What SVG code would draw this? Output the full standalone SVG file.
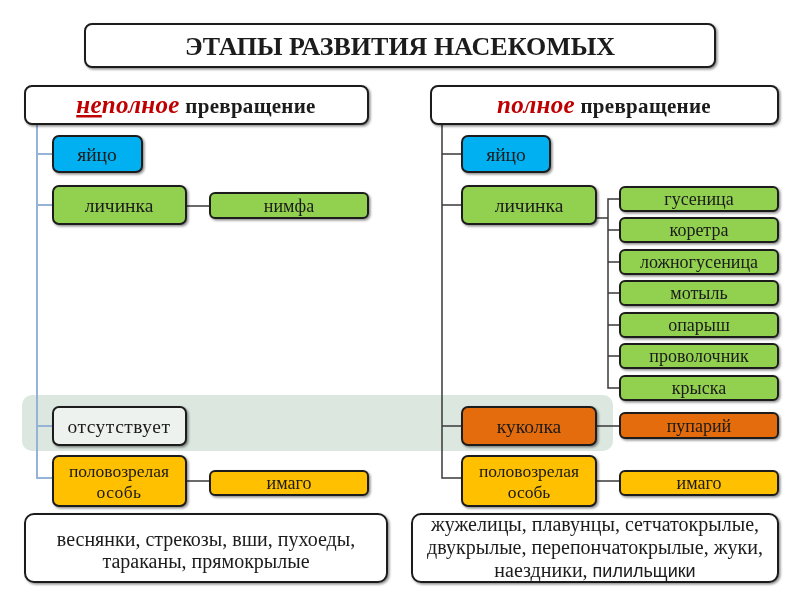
<svg xmlns="http://www.w3.org/2000/svg" width="800" height="600" viewBox="0 0 800 600">
<style>
text{font-family:"Liberation Serif","Times New Roman",serif;fill:#1a1a1a;text-anchor:middle}
.box{stroke:#1e1e1e;stroke-width:2}
.w{fill:#ffffff}
.blue{fill:#00b0f0}
.green{fill:#92d050}
.orange{fill:#e46c0a}
.yellow{fill:#ffc000}
.grey{fill:#eef2ef}
.n{font-size:19.5px}
.s{font-size:17.5px}
.c{font-size:18px}
.b{font-size:20px}
.lb{stroke:#95b3d7;stroke-width:2;fill:none}
.ld{stroke:#3a3a3a;stroke-width:1.5;fill:none}
</style>
<defs>
<filter id="sh" x="-10%" y="-10%" width="130%" height="140%">
<feDropShadow dx="1.5" dy="1.5" stdDeviation="1" flood-color="#000" flood-opacity="0.45"/>
</filter>
</defs>
<rect width="800" height="600" fill="#ffffff"/>
<rect x="22" y="395" width="591" height="56" rx="10" fill="#dce7e0"/>

<g id="connectors">
<path class="lb" d="M37 124 V478 H53 M37 154 H53 M37 205 H53 M37 426 H53"/>
<path class="ld" d="M186 206 H210 M186 481 H210"/>
<path class="ld" d="M442 124 V478 H462 M442 154 H462 M442 205 H462 M442 426 H462"/>
<path class="ld" d="M596 218 H608 M620 199 H608 V388 H620 M608 230 H620 M608 262 H620 M608 293 H620 M608 325 H620 M608 356 H620"/>
<path class="ld" d="M596 426 H620 M596 481 H620"/>
</g>

<g id="title" filter="url(#sh)">
<rect class="box w" x="85" y="24" width="630" height="43" rx="7"/>
<text x="400" y="55" style="font-size:26px;font-weight:bold">ЭТАПЫ РАЗВИТИЯ НАСЕКОМЫХ</text>
</g>

<g id="left-header" filter="url(#sh)">
<rect class="box w" x="25" y="86" width="343" height="38" rx="7"/>
<text x="196" y="113" style="font-size:21px;font-weight:bold;letter-spacing:0.3px"><tspan style="fill:#c00000;font-style:italic;font-size:25px;text-decoration:underline">не</tspan><tspan style="fill:#c00000;font-style:italic;font-size:25px">полное</tspan> превращение</text>
</g>
<g id="right-header" filter="url(#sh)">
<rect class="box w" x="431" y="86" width="347" height="38" rx="7"/>
<text x="604" y="113" style="font-size:21px;font-weight:bold;letter-spacing:0.3px"><tspan style="fill:#c00000;font-style:italic;font-size:25px">полное</tspan> превращение</text>
</g>

<g id="l-egg" filter="url(#sh)"><rect class="box blue" x="53" y="136" width="89" height="36" rx="6"/><text class="n" x="97" y="161">яйцо</text></g>
<g id="l-larva" filter="url(#sh)"><rect class="box green" x="53" y="186" width="133" height="38" rx="6"/><text class="n" x="119" y="212">личинка</text></g>
<g id="l-nymph" filter="url(#sh)"><rect class="box green" x="210" y="193" width="158" height="25" rx="5"/><text class="c" x="289" y="212">нимфа</text></g>
<g id="l-absent" filter="url(#sh)"><rect class="box grey" x="53" y="407" width="133" height="38" rx="6"/><text class="n" x="119" y="433" style="letter-spacing:0.5px">отсутствует</text></g>
<g id="l-adult" filter="url(#sh)"><rect class="box yellow" x="53" y="456" width="133" height="50" rx="6"/><text class="s" x="119" y="477">половозрелая</text><text class="s" x="119" y="498" style="letter-spacing:0.5px">особь</text></g>
<g id="l-imago" filter="url(#sh)"><rect class="box yellow" x="210" y="471" width="158" height="24" rx="5"/><text class="c" x="289" y="489">имаго</text></g>

<g id="r-egg" filter="url(#sh)"><rect class="box blue" x="462" y="136" width="88" height="36" rx="6"/><text class="n" x="506" y="161">яйцо</text></g>
<g id="r-larva" filter="url(#sh)"><rect class="box green" x="462" y="186" width="134" height="38" rx="6"/><text class="n" x="529" y="212">личинка</text></g>
<g id="r-c1" filter="url(#sh)"><rect class="box green" x="620" y="187" width="158" height="24" rx="5"/><text class="c" x="699" y="205">гусеница</text></g>
<g id="r-c2" filter="url(#sh)"><rect class="box green" x="620" y="218" width="158" height="24" rx="5"/><text class="c" x="699" y="236">коретра</text></g>
<g id="r-c3" filter="url(#sh)"><rect class="box green" x="620" y="250" width="158" height="24" rx="5"/><text class="c" x="699" y="268">ложногусеница</text></g>
<g id="r-c4" filter="url(#sh)"><rect class="box green" x="620" y="281" width="158" height="24" rx="5"/><text class="c" x="699" y="299">мотыль</text></g>
<g id="r-c5" filter="url(#sh)"><rect class="box green" x="620" y="313" width="158" height="24" rx="5"/><text class="c" x="699" y="331">опарыш</text></g>
<g id="r-c6" filter="url(#sh)"><rect class="box green" x="620" y="344" width="158" height="24" rx="5"/><text class="c" x="699" y="362">проволочник</text></g>
<g id="r-c7" filter="url(#sh)"><rect class="box green" x="620" y="376" width="158" height="24" rx="5"/><text class="c" x="699" y="394">крыска</text></g>
<g id="r-pupa" filter="url(#sh)"><rect class="box orange" x="462" y="407" width="134" height="38" rx="6"/><text class="n" x="529" y="433">куколка</text></g>
<g id="r-puparium" filter="url(#sh)"><rect class="box orange" x="620" y="413" width="158" height="25" rx="5"/><text class="c" x="699" y="432">пупарий</text></g>
<g id="r-adult" filter="url(#sh)"><rect class="box yellow" x="462" y="456" width="134" height="50" rx="6"/><text class="s" x="529" y="477">половозрелая</text><text class="s" x="529" y="498">особь</text></g>
<g id="r-imago" filter="url(#sh)"><rect class="box yellow" x="620" y="471" width="158" height="24" rx="5"/><text class="c" x="699" y="489">имаго</text></g>

<g id="l-examples" filter="url(#sh)">
<rect class="box w" x="25" y="514" width="362" height="68" rx="9"/>
<text class="b" x="206" y="546">веснянки, стрекозы, вши, пухоеды,</text>
<text class="b" x="206" y="568">тараканы, прямокрылые</text>
</g>
<g id="r-examples" filter="url(#sh)">
<rect class="box w" x="412" y="514" width="366" height="68" rx="9"/>
<text class="b" x="595" y="531">жужелицы, плавунцы, сетчатокрылые,</text>
<text class="b" x="595" y="554">двукрылые, перепончатокрылые, жуки,</text>
<text class="b" x="595" y="577">наездники, <tspan style="font-family:'Liberation Sans',Arial,sans-serif;font-size:18px">пилильщики</tspan></text>
</g>
</svg>
